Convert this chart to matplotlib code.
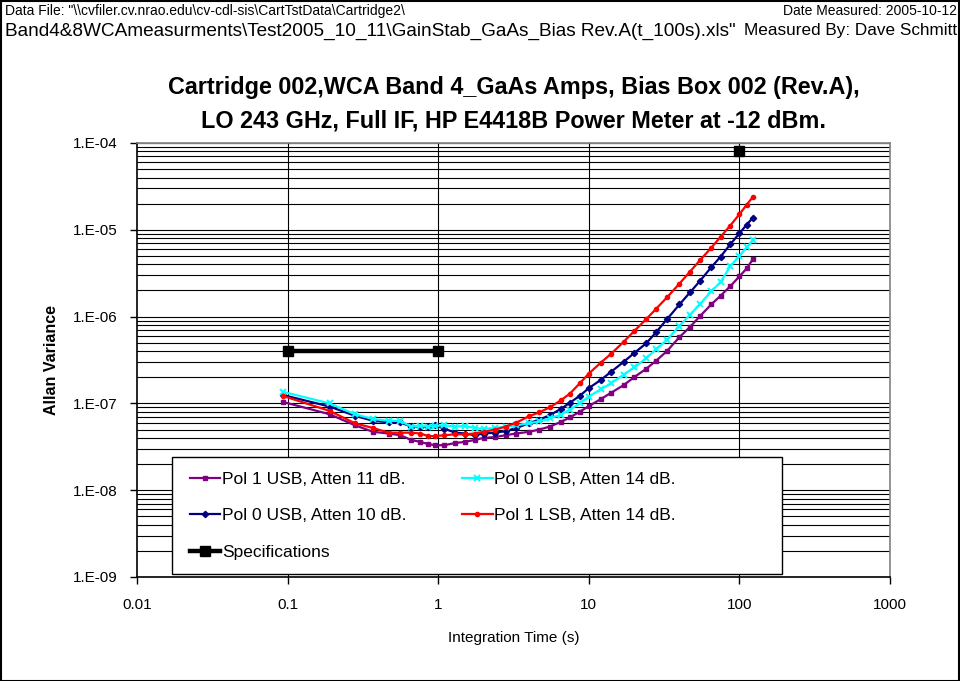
import numpy as np
import matplotlib
matplotlib.use("Agg")
import matplotlib.pyplot as plt
from matplotlib.patches import Rectangle

plt.rcParams['font.family'] = ['Liberation Sans', 'DejaVu Sans']

# integration times (s), shared by the four measured series
tau = [0.093, 0.19, 0.28, 0.37, 0.47, 0.56, 0.66, 0.76, 0.86, 0.95,
       1.1, 1.3, 1.5, 1.75, 2.0, 2.4, 2.8, 3.3, 4.0, 4.7,
       5.5, 6.5, 7.5, 8.7, 10, 12, 14, 17, 20, 24,
       28, 33, 40, 47, 55, 65, 75, 87, 100, 112, 123]

pol1_usb = [1.04e-7, 7.5e-8, 5.6e-8, 4.7e-8, 4.5e-8, 4.3e-8, 3.8e-8, 3.6e-8, 3.4e-8, 3.3e-8,
            3.3e-8, 3.5e-8, 3.6e-8, 3.8e-8, 4.0e-8, 4.1e-8, 4.3e-8, 4.5e-8, 4.7e-8, 5.0e-8,
            5.4e-8, 6.1e-8, 6.9e-8, 8.0e-8, 9.3e-8, 1.12e-7, 1.32e-7, 1.62e-7, 2.0e-7, 2.5e-7,
            3.1e-7, 4.0e-7, 5.8e-7, 7.6e-7, 1.02e-6, 1.38e-6, 1.74e-6, 2.24e-6, 2.9e-6, 3.6e-6, 4.6e-6]

pol0_lsb = [1.36e-7, 1.0e-7, 7.5e-8, 6.6e-8, 6.3e-8, 6.3e-8, 5.4e-8, 5.5e-8, 5.4e-8, 5.5e-8,
            5.6e-8, 5.4e-8, 5.5e-8, 5.2e-8, 5.1e-8, 5.2e-8, 5.4e-8, 5.6e-8, 5.9e-8, 6.2e-8,
            6.7e-8, 7.4e-8, 8.5e-8, 1.0e-7, 1.2e-7, 1.45e-7, 1.7e-7, 2.14e-7, 2.6e-7, 3.3e-7,
            4.2e-7, 5.4e-7, 7.8e-7, 1.05e-6, 1.41e-6, 1.95e-6, 2.5e-6, 3.8e-6, 5.0e-6, 6.3e-6, 7.6e-6]

pol0_usb = [1.25e-7, 9.2e-8, 7.2e-8, 6.3e-8, 6.05e-8, 6.05e-8, 5.4e-8, 5.4e-8, 5.3e-8, 5.6e-8,
            5.1e-8, 4.6e-8, 4.5e-8, 4.3e-8, 4.5e-8, 4.6e-8, 4.8e-8, 5.2e-8, 5.9e-8, 6.5e-8,
            7.3e-8, 8.6e-8, 1.02e-7, 1.22e-7, 1.5e-7, 1.86e-7, 2.3e-7, 3.0e-7, 3.8e-7, 4.9e-7,
            6.6e-7, 9.3e-7, 1.38e-6, 1.9e-6, 2.6e-6, 3.7e-6, 4.9e-6, 6.8e-6, 9.1e-6, 1.15e-5, 1.38e-5]

pol1_lsb = [1.22e-7, 8.2e-8, 5.9e-8, 5.2e-8, 4.6e-8, 4.6e-8, 4.6e-8, 4.5e-8, 4.2e-8, 4.2e-8,
            4.3e-8, 4.4e-8, 4.4e-8, 4.5e-8, 4.7e-8, 5.0e-8, 5.4e-8, 6.0e-8, 7.1e-8, 7.9e-8,
            9.0e-8, 1.08e-7, 1.3e-7, 1.7e-7, 2.2e-7, 2.95e-7, 3.7e-7, 5.1e-7, 6.8e-7, 9.3e-7,
            1.23e-6, 1.66e-6, 2.4e-6, 3.3e-6, 4.5e-6, 6.2e-6, 8.3e-6, 1.12e-5, 1.51e-5, 1.95e-5, 2.4e-5]

# specification points (gap between the two parts)
spec_t = [0.1, 1, np.nan, 100]
spec_v = [4e-7, 4e-7, np.nan, 8e-5]

x_ticks = [0.01, 0.1, 1, 10, 100, 1000]
x_labels = ["0.01", "0.1", "1", "10", "100", "1000"]
y_ticks = [1e-9, 1e-8, 1e-7, 1e-6, 1e-5, 1e-4]
y_labels = ["1.E-09", "1.E-08", "1.E-07", "1.E-06", "1.E-05", "1.E-04"]

fig = plt.figure(figsize=(9.6, 6.81), dpi=100)
ax = fig.add_axes([137/960, 104/681, 753/960, 434/681])

ax.set_xscale('log')
ax.set_yscale('log')
ax.set_xlim(0.01, 1000)
ax.set_ylim(1e-9, 1e-4)

# grid: all minor horizontals, only decade verticals
for dec in range(-9, -4):
    for m in range(1, 10):
        ax.axhline(m * 10.0**dec, color='black', lw=0.8, zorder=1)
ax.axhline(1e-4, color='#808080', lw=1.0, zorder=1)
for xv in [0.1, 1, 10, 100]:
    ax.axvline(xv, color='black', lw=0.8, zorder=1)

l1, = ax.plot(tau, pol1_usb, color='#800080', lw=1.6, marker='s', ms=3.5, zorder=3)
l2, = ax.plot(tau, pol0_usb, color='#000080', lw=1.6, marker='D', ms=3.2, zorder=3)
l3, = ax.plot(tau, pol0_lsb, color='#00FFFF', lw=1.6, marker='x', ms=4, mew=1.4, zorder=3)
l4, = ax.plot(tau, pol1_lsb, color='#FF0000', lw=1.6, marker='o', ms=3, zorder=3)
l5, = ax.plot(spec_t, spec_v, color='black', lw=3.2, marker='s', ms=7, zorder=4)

ax.set_xticks(x_ticks)
ax.set_xticklabels(x_labels)
ax.set_yticks(y_ticks)
ax.set_yticklabels(y_labels)
ax.minorticks_off()
ax.tick_params(axis='both', direction='out', length=5, width=1, labelsize=11, color='black')
ax.tick_params(axis='x', pad=10)
ax.tick_params(axis='y', pad=9)

for s in ['left', 'bottom']:
    ax.spines[s].set_color('black')
    ax.spines[s].set_linewidth(1.2)
for s in ['top', 'right']:
    ax.spines[s].set_color('#808080')
    ax.spines[s].set_linewidth(1.2)

ax.set_xlabel("Integration Time (s)", fontsize=11, labelpad=14)
ax.set_ylabel("Allan Variance", fontsize=11.5, fontweight='bold', labelpad=10)

ax.set_title("Cartridge 002,WCA Band 4_GaAs Amps, Bias Box 002 (Rev.A),\n"
             "LO 243 GHz, Full IF, HP E4418B Power Meter at -12 dBm.",
             fontsize=16.8, fontweight='bold', pad=11, linespacing=1.6)

# legend box (opaque, covering grid)
ax.add_patch(Rectangle(((172-137)/753, (577-574)/434), (782-172)/753, (574-457)/434,
                       transform=ax.transAxes, facecolor='white', edgecolor='black',
                       lw=1.0, zorder=5))
leg = ax.legend([l1, l2, l5, l3, l4],
                ["Pol 1 USB, Atten 11 dB.", "Pol 0 USB, Atten 10 dB.", "Specifications",
                 "Pol 0 LSB, Atten 14 dB.", "Pol 1 LSB, Atten 14 dB."],
                ncol=2, loc='upper left', bbox_to_anchor=((190-137)/753, (577-472)/434),
                frameon=False, fontsize=12.5, handlelength=1.75, handletextpad=0.1,
                labelspacing=1.22, columnspacing=3.2, borderpad=0, borderaxespad=0)
leg.set_zorder(6)

# header text
fig.text(5/960, 1 - 11/681, 'Data File: "\\\\cvfiler.cv.nrao.edu\\cv-cdl-sis\\CartTstData\\Cartridge2\\',
         fontsize=10, va='center', ha='left')
fig.text(957/960, 1 - 11/681, 'Date Measured: 2005-10-12', fontsize=10, va='center', ha='right')
fig.text(5/960, 1 - 31/681,
         'Band4&8WCAmeasurments\\Test2005_10_11\\GainStab_GaAs_Bias Rev.A(t_100s).xls"',
         fontsize=13.7, va='center', ha='left')
fig.text(957/960, 1 - 31/681, 'Measured By: Dave Schmitt', fontsize=12.3, va='center', ha='right')

fig.add_artist(Rectangle((1/960, 0), 958/960, 1 - 1/681, transform=fig.transFigure,
                         fill=False, edgecolor='black', lw=1.5))

fig.savefig("out.png", dpi=100)
